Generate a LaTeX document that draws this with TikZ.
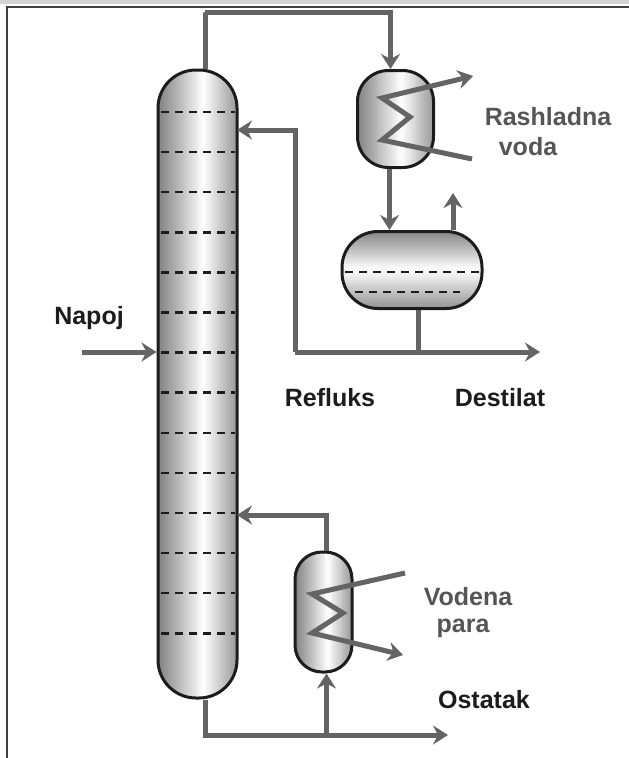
\documentclass[tikz,border=0pt]{standalone}
\usepackage{fontspec}
\setsansfont{Liberation Sans}
\usetikzlibrary{arrows.meta}
\definecolor{pipegray}{HTML}{646464}
\definecolor{textgray}{HTML}{555555}
\definecolor{inkblack}{HTML}{1C1C1C}
\tikzset{
    pipe/.style={line width=5pt,pipegray},
    flow/.style={pipe,-{Stealth[length=15pt,width=19pt,inset=5pt]}},
    vessel/.style={draw=inkblack,line width=3pt,inner sep=0pt},
    tray/.style={line width=2.5pt,inkblack,dash pattern=on 8pt off 6pt},
    lbl/.style={font=\sffamily\bfseries\fontsize{25}{35}\selectfont,inkblack},
    lblgray/.style={lbl,textgray}
}
% gray-white-gray fills, in strips, clipped to a rounded box
\newcommand{\hshade}[5]{%
  \begin{scope}
    \clip[rounded corners=#5] (#1,#2) rectangle (#3,#4);
    \foreach \k in {0,...,39}{
      \pgfmathsetmacro{\t}{(\k+0.5)/40}
      \pgfmathsetmacro{\g}{\t<0.58 ? 50*(1-\t/0.58) : 40*(\t-0.58)/0.42}
      \fill[black!\g] ({#1+(#3-#1)*\k/40},#2) rectangle ({#1+(#3-#1)*(\k+1)/40+0.7},#4);
    }
  \end{scope}}
\newcommand{\vshade}[5]{%
  \begin{scope}
    \clip[rounded corners=#5] (#1,#2) rectangle (#3,#4);
    \foreach \k in {0,...,39}{
      \pgfmathsetmacro{\t}{(\k+0.5)/40}
      \pgfmathsetmacro{\g}{\t<0.5 ? 48*(1-\t/0.5) : 42*(\t-0.5)/0.5}
      \fill[black!\g] (#1,{#2+(#4-#2)*\k/40}) rectangle (#3,{#2+(#4-#2)*(\k+1)/40+0.7});
    }
  \end{scope}}

\begin{document}
\begin{tikzpicture}[x=1pt,y=-1pt]
\useasboundingbox (0,0) rectangle (629,758);
% frame
\fill[black!17] (0,0) rectangle (629,4);
\draw[line width=1.5pt,black!75] (7,758) -- (7,7) -- (629,7);
% vessel fills
\hshade{158}{70}{237}{698}{38}
\hshade{357.5}{70.5}{433.5}{167.5}{31}
\vshade{342}{231.5}{482}{308.5}{36}
\hshade{295}{552}{352}{672}{27}
% vessels
\node[vessel,minimum width=79pt,minimum height=628pt,rounded corners=38pt] (col) at (197.5,384) {};
\node[vessel,minimum width=76pt,minimum height=97pt,rounded corners=31pt] (cond) at (395.5,119) {};
\node[vessel,minimum width=140pt,minimum height=77pt,rounded corners=36pt] (drum) at (412,270) {};
\node[vessel,minimum width=57pt,minimum height=120pt,rounded corners=27pt] (reb) at (323.5,612) {};
% trays
\foreach \i in {0,...,13} \draw[tray] (161,112+40.1*\i) -- (235,112+40.1*\i);
\draw[tray] (345,272) -- (480,272);
\draw[tray] (355,292) -- (460,292);
% pipe points
\coordinate (vtop) at (205,12);
\coordinate (refin) at (237,130);
\coordinate (rfx) at (295,352);
\coordinate (split) at (418,352);
\coordinate (dst) at (540,352);
\coordinate (vent) at (453,193);
\coordinate (feed) at (82,352);
\coordinate (boilin) at (237,515);
\coordinate (res) at (448,735);
% overhead, condenser and drum
\draw[flow] ([xshift=8pt]col.north) |- (vtop) -| ([xshift=-5pt]cond.north);
\draw[flow] ([xshift=-6pt]cond.south) -- ([xshift=-6pt]cond.south |- drum.north);
\draw[flow] (vent |- drum.north) -- (vent);
\draw[pipe] ([xshift=6pt]drum.south) -- (split);
\draw[flow] (rfx) -- (dst);
\draw[flow] (rfx) |- (refin);
% feed
\draw[flow] (feed) -- (feed -| col.west);
% bottoms and reboiler
\draw[flow] ([xshift=8pt]col.south) |- (res);
\draw[flow] ([xshift=3pt]reb.south |- res) -- ([xshift=3pt]reb.south);
\draw[flow] ([xshift=3pt]reb.north) |- (boilin);
% coils
\draw[flow,line join=miter] (472,159) -- (382,140) -- (410,117) -- (382,98) -- (473,76);
\draw[flow,line join=miter] (405,573) -- (312,594) -- (343,613) -- (312,633) -- (403,655);
% labels
\node[lbl] (napoj) at (89,318) {Napoj};
\node[lbl] (refluks) at (330,398) {Refluks};
\node[lbl] (destilat) at (500,398) {Destilat};
\node[lbl] (ostatak) at (484,700) {Ostatak};
\node[lblgray] (rash) at (548,117) {Rashladna};
\node[lblgray] (voda) at (528,147) {voda};
\node[lblgray] (vodena) at (468,597) {Vodena};
\node[lblgray] (para) at (463,628) {para};
\end{tikzpicture}
\end{document}
